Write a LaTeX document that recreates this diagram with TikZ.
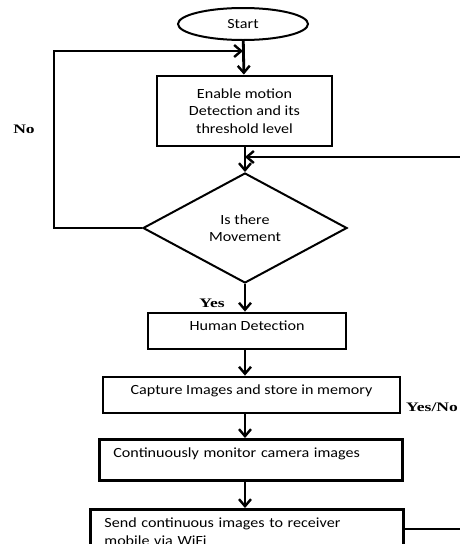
\documentclass[tikz,border=0pt]{standalone}
\usepackage{fontspec}
\newfontfamily\boxface[FakeStretch=1.15]{Carlito}
\newfontfamily\labelface[FakeStretch=1.35]{Liberation Serif}
\usetikzlibrary{positioning, calc, shapes.geometric, arrows.meta}

\tikzset{
  flowbox/.style={draw, line width=2.8pt, font=\fontsize{14}{17.5}\selectfont\boxface, inner sep=0pt},
  flowline/.style={line width=2.8pt},
  flowarrow/.style={flowline, -{Straight Barb[length=7pt, width=12pt, line width=2.4pt]}},
  edgelabel/.style={font=\fontsize{13}{15}\selectfont\labelface\bfseries, inner sep=0pt}
}

\begin{document}
\begin{tikzpicture}[x=1pt, y=-1pt]
  \useasboundingbox (0,0) rectangle (460,544);
  \clip (0,0) rectangle (460,544);

  % flow blocks
  \node (start) [flowbox, ellipse, line width=2pt, minimum width=130, minimum height=32] at (243,24) {Start};
  \node (enable) [flowbox, minimum width=175, minimum height=70, align=center] at (244.5,111) {Enable motion\\Detection and its\\threshold level};
  \node (move) [flowbox, diamond, line width=2pt, minimum width=204, minimum height=110, align=center] at (245,228) {Is there\\Movement};
  \node (human) [flowbox, minimum width=198, minimum height=36, text depth=10pt] at (247,331) {Human Detection};
  \node (capture) [flowbox, minimum width=297, minimum height=36, text depth=11pt] at (251.5,395) {Capture Images and store in memory};
  \node (monitor) [flowbox, anchor=north west, minimum width=303, minimum height=41, text width=275, inner xsep=14pt, align=left, text depth=14pt] at (98,438) {Continuously monitor camera images};
  \node (send) [flowbox, anchor=north west, minimum width=313, minimum height=62, text width=285, inner xsep=14pt, inner ysep=6pt, align=left] at (89,508) {Send continuous images to receiver\\mobile via WiFi\\~};

  % labels
  \node (no) [edgelabel] at (24,129) {No};
  \node (yes) [edgelabel] at (212,303) {Yes};
  \node (yesno) [edgelabel] at (432,407) {Yes/No};

  % helper points
  \coordinate (spine) at (245,0);
  \coordinate (j1) at (243,51);
  \coordinate (j2) at (245,157);
  \coordinate (nocorner) at (54,51);
  \coordinate (fbout) at (402,529);
  \coordinate (fbright) at (461,529);

  % main flow
  \draw[flowarrow] (start) -- (enable);
  \draw[flowarrow] (enable.south -| spine) -- (move.north);
  \draw[flowarrow] (move.south) -- (human.north -| spine);
  \draw[flowarrow] (human.south -| spine) -- (capture.north -| spine);
  \draw[flowarrow] (capture.south -| spine) -- (monitor.north -| spine);
  \draw[flowarrow] (monitor.south -| spine) -- (send.north -| spine);

  % loops back
  \draw[flowarrow] (move.west) -| (nocorner) -- (j1);
  \draw[flowarrow] (fbout) -- (fbright) |- (j2);
\end{tikzpicture}
\end{document}
